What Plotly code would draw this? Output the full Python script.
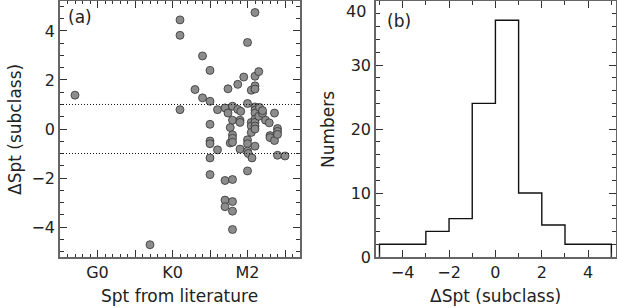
import plotly.graph_objects as go

# ---- data: panel (a) scatter ----
spt_lit = [-3, 7, 11, 11, 11, 13, 14, 14, 15, 15, 15, 15, 15, 15, 15, 16, 16,
           17, 17, 17, 17, 17.4, 17.4, 17.7, 17.7, 18, 18, 18, 18, 18, 18, 18, 18, 18,
           18.7, 18.7, 19.1, 19, 19, 19, 19.5, 20, 20, 20, 20, 20, 20, 20.1,
           20.5, 20.5, 20.5, 20.5, 20.6, 21, 21, 21, 21, 21, 21, 21, 21, 21, 21, 21, 21,
           21.5, 21.6, 21.5, 22, 22, 22.4, 22.9, 23, 23, 23.6, 23.6, 24, 24, 24, 24, 25]
dspt = [1.38, -4.72, 4.45, 3.82, 0.79, 1.61, 2.98, 1.27, 2.39, 1.13, 0.19, -0.49, -0.6, -1.18, -1.86, 0.79, -0.85,
        0.86, -2.1, -2.9, -3.17, 1.64, 0.65, 0.06, -0.57, 0.93, 0.36, -0.24, -0.38, -0.54, -2.06, -2.96, -3.35, -4.1,
        1.82, 0.8, 0.72, 0.36, 0.27, -0.82, 2.12, 3.53, 1.04, -0.44, -0.6, -0.9, -1.71, -1.0,
        1.58, 0.27, 0.12, -0.14, -1.18, 4.75, 2.15, 1.76, 1.63, 0.9, 0.77, 0.65, 0.4, 0.27, 0.12, 0.0, -0.7,
        2.34, 0.88, 0.52, 0.64, 0.75, 0.36, 0.25, -0.27, -0.35, 0.65, -0.47, 0.02, -0.1, -0.22, -1.07, -1.1]
spt_tickvals = [0, 5, 10, 15, 20, 25]
spt_ticktext = ["G0", "", "K0", "", "M2", ""]
limits = [1, -1]

# ---- data: panel (b) histogram ----
bin_edges = [-5, -4, -3, -2, -1, 0, 1, 2, 3, 4, 5]
counts = [2, 2, 4, 6, 24, 37, 10, 5, 2, 2]
num_tickvals = [0, 10, 20, 30, 40]
num_ticktext = ["0", "10", "20", "30", ""]   # top label drawn below so it stays inside the page

W, H = 617, 308
def fx(px): return px / W
def fy(py): return 1 - py / H

FONT = "DejaVu Sans"
TXT = "#222222"
FRAME = "#666666"

fig = go.Figure()
fig.add_trace(go.Scatter(
    x=spt_lit, y=dspt, mode="markers", xaxis="x", yaxis="y",
    marker=dict(size=8, color="#8c8c8c", line=dict(color="#333333", width=0.8)),
    showlegend=False, hoverinfo="skip"))

hx = [bin_edges[0]] + bin_edges + [bin_edges[-1]]
hy = [0] + counts + [counts[-1], 0]
fig.add_trace(go.Scatter(
    x=hx, y=hy, mode="lines", xaxis="x2", yaxis="y2", line_shape="hv",
    line=dict(color="#111111", width=1.4), showlegend=False, hoverinfo="skip"))

common = dict(showline=True, linecolor=FRAME, linewidth=1.5, mirror="ticks",
              ticks="inside", ticklen=7, tickwidth=1, tickcolor="#333333",
              showgrid=False, zeroline=False, automargin=False,
              tickfont=dict(family=FONT, size=16, color=TXT))

fig.update_layout(
    width=W, height=H, margin=dict(l=0, r=0, t=0, b=0),
    plot_bgcolor="white", paper_bgcolor="white",
    xaxis=dict(domain=[fx(60), fx(300)], range=[-5, 27], anchor="y",
               tickmode="array", tickvals=spt_tickvals, ticktext=spt_ticktext,
               minor=dict(dtick=1, ticks="inside", ticklen=3, tickcolor="#333333", tick0=0),
               **common),
    yaxis=dict(domain=[fy(257), fy(1)], range=[-5.22, 5.22], anchor="x",
               tickmode="linear", tick0=0, dtick=2,
               minor=dict(dtick=0.5, ticks="inside", ticklen=4, tickcolor="#333333", tick0=0),
               **common),
    xaxis2=dict(domain=[fx(376), fx(616)], range=[-5.15, 5.2], anchor="y2",
                tickmode="linear", tick0=0, dtick=2,
                minor=dict(dtick=1, ticks="inside", ticklen=4, tickcolor="#333333", tick0=0),
                **common),
    yaxis2=dict(domain=[fy(257), fy(1)], range=[0, 40], anchor="x2",
                tickmode="array", tickvals=num_tickvals, ticktext=num_ticktext,
                minor=dict(dtick=2, ticks="inside", ticklen=4, tickcolor="#333333", tick0=0),
                **common),
)

for y0 in limits:
    fig.add_shape(type="line", xref="x domain", yref="y", x0=0, x1=1, y0=y0, y1=y0,
                  line=dict(color="#111111", width=1, dash="1px,2px"))

# top tick label of the Numbers axis
fig.add_annotation(text=str(num_tickvals[-1]), xref="paper", yref="y2", x=fx(368), y=num_tickvals[-1],
                   xanchor="right", yanchor="top", yshift=1, showarrow=False,
                   font=dict(family=FONT, size=16, color=TXT))

ann = dict(showarrow=False, font=dict(family=FONT, size=17, color=TXT))
fig.add_annotation(text="(a)", xref="paper", yref="paper", x=fx(66), y=fy(17),
                   xanchor="left", yanchor="middle", **ann)
fig.add_annotation(text="(b)", xref="paper", yref="paper", x=fx(385), y=fy(21),
                   xanchor="left", yanchor="middle", **ann)
fig.add_annotation(text="Spt from literature", xref="paper", yref="paper", x=fx(180), y=fy(296),
                   xanchor="center", yanchor="middle", **ann)
fig.add_annotation(text="ΔSpt (subclass)", xref="paper", yref="paper", x=fx(495), y=fy(296),
                   xanchor="center", yanchor="middle", **ann)
fig.add_annotation(text="ΔSpt (subclass)", xref="paper", yref="paper", x=fx(15), y=fy(130),
                   xanchor="center", yanchor="middle", textangle=-90, **ann)
fig.add_annotation(text="Numbers", xref="paper", yref="paper", x=fx(328), y=fy(130),
                   xanchor="center", yanchor="middle", textangle=-90, **ann)

fig.write_html("out.html", config={"displayModeBar": False},
               post_script="document.body.style.margin='0px';document.body.style.padding='0px';document.body.style.overflow='hidden';")
